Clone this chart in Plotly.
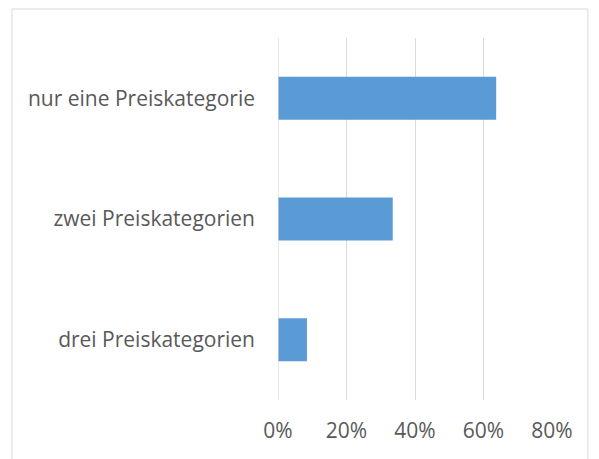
import plotly.graph_objects as go

categories = ["drei Preiskategorien", "zwei Preiskategorien", "nur eine Preiskategorie"]
values = [0.0845, 0.335, 0.637]
tick_vals = [0, 0.2, 0.4, 0.6, 0.8]
tick_text = ["0%", "20%", "40%", "60%", "80%"]

fig = go.Figure(go.Bar(
    y=categories, x=values, orientation="h",
    marker=dict(color="#5B9BD5", line=dict(width=0)),
))

fig.update_layout(
    width=591, height=451,
    margin=dict(l=270, r=47, t=30, b=59),
    paper_bgcolor="white", plot_bgcolor="white",
    bargap=0.644,
    showlegend=False,
    font=dict(family="Open Sans", color="#595959", size=21),
    xaxis=dict(range=[0, 0.8], tickvals=tick_vals, ticktext=tick_text,
               showgrid=True, gridcolor="#d9d9d9", gridwidth=1.2,
               zeroline=False, showline=False, ticks="",
               ticklabelstandoff=16, tickfont=dict(size=21)),
    yaxis=dict(showgrid=False, zeroline=False, showline=False, ticks="",
               ticklabelstandoff=22, tickfont=dict(size=21)),
    shapes=[dict(type="rect", xref="paper", yref="paper",
                 x0=-0.971, x1=1.131, y0=-0.3, y1=1.08,
                 line=dict(color="#d9d9d9", width=1), layer="below")],
)
fig.add_shape(type="line", xref="x", yref="paper", x0=0, x1=0, y0=0, y1=1,
              line=dict(color="#d9d9d9", width=1.2))

fig.write_html("out.html")
